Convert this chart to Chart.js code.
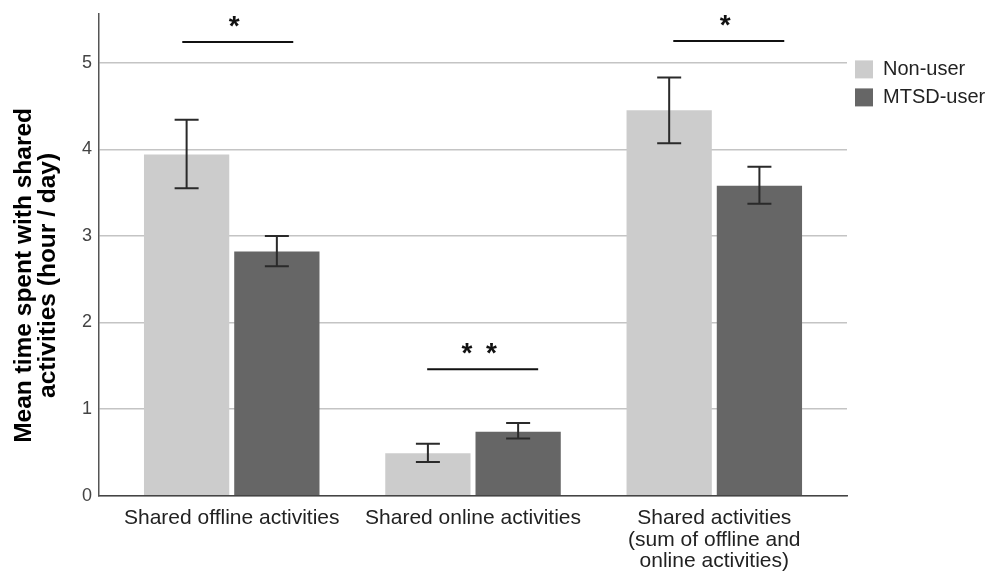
<!DOCTYPE html>
<html lang="en">
<head>
  <meta charset="UTF-8">
  <title>Mean time spent with shared activities</title>
  <script src="https://cdn.jsdelivr.net/npm/chart.js"></script>
  <style>
    html, body { margin: 0; padding: 0; background: #fff; }
  </style>
</head>
<body>
  <canvas id="chart" width="987" height="572"></canvas>

  <script>
    // categories on the x axis
    const categories = [
      'Shared offline activities',
      'Shared online activities',
      ['Shared activities', '(sum of offline and', 'online activities)']
    ];
    const groups = ['Non-user', 'MTSD-user'];

    // means and error bar ends (hour / day)
    const nonUser     = [3.94, 0.49, 4.45];
    const nonUserLow  = [3.55, 0.39, 4.07];
    const nonUserHigh = [4.34, 0.60, 4.83];
    const mtsdUser    = [2.82, 0.74, 3.58];
    const mtsdLow     = [2.65, 0.66, 3.37];
    const mtsdHigh    = [3.00, 0.84, 3.80];

    // significance markers: label, bracket height, bracket span (x in category units)
    const sigLabels = ['*', '* *', '*'];
    const sigLevel  = [5.24, 1.46, 5.25];
    const sigFrom   = [-0.205, 0.81, 1.83];
    const sigTo     = [0.255, 1.27, 2.29];

    const yTicks = [0, 1, 2, 3, 4, 5];

    const errorBars = {
      id: 'errorBars',
      afterDatasetsDraw(chart) {
        const ctx = chart.ctx;
        const y = chart.scales.y;
        const ranges = [[nonUserLow, nonUserHigh], [mtsdLow, mtsdHigh]];
        ctx.save();
        ctx.strokeStyle = '#2a2a2a';
        ctx.lineWidth = 2;
        chart.data.datasets.forEach((ds, di) => {
          chart.getDatasetMeta(di).data.forEach((bar, i) => {
            const lo = y.getPixelForValue(ranges[di][0][i]);
            const hi = y.getPixelForValue(ranges[di][1][i]);
            ctx.beginPath();
            ctx.moveTo(bar.x, lo); ctx.lineTo(bar.x, hi);
            ctx.moveTo(bar.x - 12, lo); ctx.lineTo(bar.x + 12, lo);
            ctx.moveTo(bar.x - 12, hi); ctx.lineTo(bar.x + 12, hi);
            ctx.stroke();
          });
        });
        ctx.restore();
      }
    };

    const significance = {
      id: 'significance',
      afterDraw(chart) {
        const ctx = chart.ctx;
        const {x, y} = chart.scales;
        ctx.save();
        ctx.strokeStyle = '#111';
        ctx.fillStyle = '#111';
        ctx.lineWidth = 2;
        ctx.font = 'bold 28px "Liberation Sans", Arial, sans-serif';
        ctx.letterSpacing = '3px';
        ctx.textAlign = 'center';
        ctx.textBaseline = 'alphabetic';
        sigLabels.forEach((txt, i) => {
          const x0 = x.getPixelForValue(sigFrom[i]);
          const x1 = x.getPixelForValue(sigTo[i]);
          const py = y.getPixelForValue(sigLevel[i]);
          ctx.beginPath();
          ctx.moveTo(x0, py); ctx.lineTo(x1, py);
          ctx.stroke();
          ctx.fillText(txt, (x0 + x1) / 2 - 2, py - 7);
        });
        ctx.restore();
      }
    };

    const font = '"Liberation Sans", Arial, sans-serif';

    new Chart(document.getElementById('chart'), {
      type: 'bar',
      data: {
        datasets: [
          { label: groups[0], data: nonUser.map((v, i) => ({x: i, y: v})), backgroundColor: '#cccccc' },
          { label: groups[1], data: mtsdUser.map((v, i) => ({x: i, y: v})), backgroundColor: '#666666' }
        ]
      },
      options: {
        responsive: false,
        animation: false,
        devicePixelRatio: 1,
        categoryPercentage: 0.748,
        barPercentage: 0.945,
        layout: { padding: { left: 12, top: 3, right: 0, bottom: -12 } },
        plugins: {
          tooltip: { enabled: false },
          legend: {
            position: 'right',
            align: 'start',
            maxWidth: 140,
            title: { display: true, text: '', padding: { top: 0, bottom: 34 } },
            labels: {
              boxWidth: 18, boxHeight: 18, padding: 8,
              color: '#222', font: { family: font, size: 20 }
            }
          }
        },
        scales: {
          x: {
            type: 'linear',
            offset: false,
            min: -0.55,
            max: 2.55,
            afterBuildTicks: s => { s.ticks = [0, 1, 2].map(v => ({value: v})); },
            grid: { display: false, drawTicks: false },
            border: { color: '#444', width: 1.5 },
            ticks: {
              callback: v => categories[v],
              autoSkip: false, maxRotation: 0, padding: 12,
              color: '#222', font: { family: font, size: 21, lineHeight: 1.02 }
            }
          },
          y: {
            min: 0,
            max: 5.56,
            afterBuildTicks: s => { s.ticks = yTicks.map(v => ({value: v})); },
            grid: { color: '#c4c4c4', lineWidth: 1.5, drawTicks: false },
            border: { color: '#555', width: 1.5 },
            ticks: { padding: 7, color: '#444', font: { family: font, size: 18, lineHeight: 0.8 } },
            title: {
              display: true,
              // trailing spaces push the centred title a little below the axis middle
              text: ['Mean time spent with shared      ', 'activities (hour / day)      '],
              color: '#000',
              font: { family: font, size: 24.5, weight: 'bold', lineHeight: 0.98 },
              padding: { top: 0, bottom: 15 }
            }
          }
        }
      },
      plugins: [errorBars, significance]
    });
  </script>
</body>
</html>
